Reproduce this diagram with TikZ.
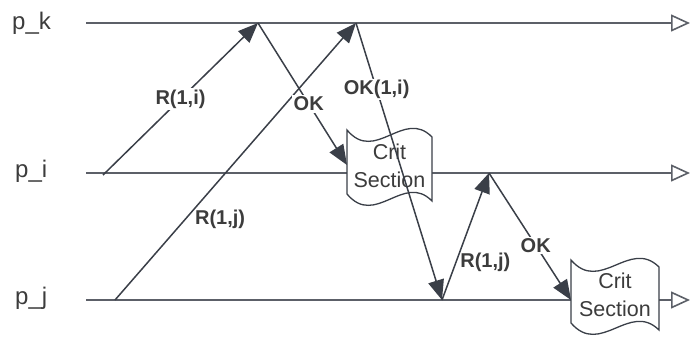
\documentclass[tikz,border=0pt]{standalone}
\usepackage{fontspec}
\setmainfont{Liberation Sans}
\usetikzlibrary{arrows.meta}
\definecolor{arrowcol}{HTML}{3A3F48}
\definecolor{linecol}{HTML}{5C6068}
\definecolor{txtcol}{HTML}{3C3C3C}
\tikzset{
  timeline/.style={draw=linecol, line width=2pt, -{Triangle[open, length=19pt, width=17pt, line width=1.6pt]}},
  plainline/.style={draw=linecol, line width=2pt},
  msg/.style={draw=arrowcol, line width=1.5pt, -{Triangle[length=20pt, width=16pt]}},
  msglabel/.style={font=\bfseries\fontsize{20}{23}\selectfont, text=txtcol, inner sep=1.5pt},
  onlinelabel/.style={msglabel, fill=white},
  proclabel/.style={font=\fontsize{24}{28}\selectfont, text=txtcol, inner sep=0pt, anchor=base west},
  critbox/.style={draw=arrowcol, line width=1.3pt, fill=white},
  crittext/.style={font=\fontsize{21.5}{28}\selectfont, text=txtcol, align=center, inner sep=0pt}
}
\newcommand\critshape[4]{% left, top, width, height
  \path[critbox] (#1,#2) .. controls ({#1+#3/3},{#2+34}) and ({#1+2*#3/3},{#2-22}) .. ({#1+#3},{#2+7})
    -- ({#1+#3},{#2+7+#4}) .. controls ({#1+2*#3/3},{#2+#4-22}) and ({#1+#3/3},{#2+#4+34}) .. (#1,{#2+#4}) -- cycle;}
\begin{document}
\begin{tikzpicture}[x=1pt, y=-1pt]
\useasboundingbox (0,0) rectangle (691,337);
% process labels
\node[proclabel] (lk) at (12,30) {p\_k};
\node[proclabel] (li) at (15,177) {p\_i};
\node[proclabel] (lj) at (15,304) {p\_j};
% timeline coordinates
\coordinate (k0) at (86,23);  \coordinate (kE) at (690,23);
\coordinate (i0) at (86,173); \coordinate (iE) at (690,173);
\coordinate (j0) at (86,300);
\coordinate (cs1w) at (347,165);
\coordinate (cs2w) at (571,300);
\coordinate (cs2e) at (659,300);
\coordinate (jE) at (690,300);
% events
\coordinate (ri) at (103,175);
\coordinate (rj) at (115,300);
\coordinate (k1) at (258,23);
\coordinate (k2) at (356,23);
\coordinate (j1) at (442,300);
\coordinate (i1) at (489,173);
% timelines
\draw[timeline] (k0) -- (kE);
\draw[timeline] (i0) -- (iE);
\draw[plainline] (j0) -- (cs2w);
\draw[timeline] (cs2e) -- (jE);
% crit sections
\critshape{347}{130}{85}{64}
\node[crittext] (cs1) at (389.5,166) {Crit\\Section};
\critshape{571}{260}{88}{63}
\node[crittext] (cs2) at (615,295) {Crit\\Section};
% messages
\draw[msg] (ri) -- node[onlinelabel, pos=0.5] (lri) {R(1,i)} (k1);
\draw[msg] (rj) -- node[msglabel, pos=0.29, anchor=west, xshift=8pt] (lrj) {R(1,j)} (k2);
\draw[msg] (k1) -- node[onlinelabel, pos=0.57] (lok1) {OK} (cs1w);
\draw[msg] (k2) -- node[onlinelabel, pos=0.24] (lok2) {OK(1,i)} (j1);
\draw[msg] (j1) -- node[msglabel, pos=0.3, anchor=west, xshift=2pt] (lrj2) {R(1,j)} (i1);
\draw[msg] (i1) -- node[onlinelabel, pos=0.57] (lok3) {OK} (cs2w);
\end{tikzpicture}
\end{document}
